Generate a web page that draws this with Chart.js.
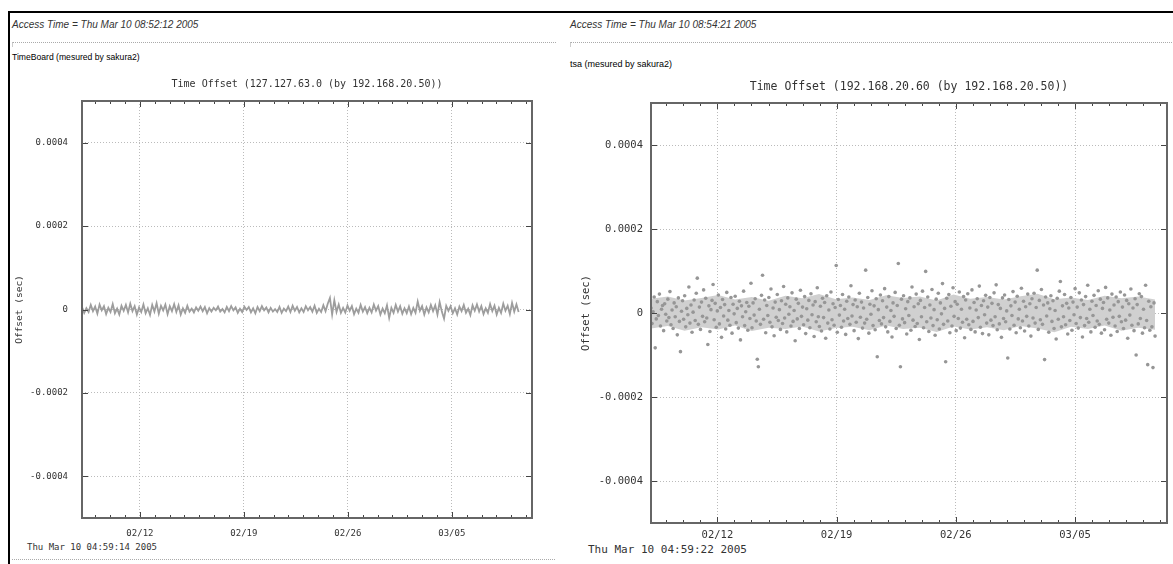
<!DOCTYPE html>
<html>
<head>
<meta charset="utf-8">
<script src="https://cdn.jsdelivr.net/npm/chart.js@4.4.1/dist/chart.umd.min.js"></script>
<style>
    body { margin: 0; background: #fff; width: 1173px; height: 564px; position: relative; overflow: hidden; font-family: "Liberation Sans", Arial, sans-serif; }
    .linea-top { position: absolute; left: 8px; top: 11px; width: 1165px; height: 2px; background: #000; }
    .linea-izq { position: absolute; left: 8px; top: 11px; width: 2px; height: 553px; background: #000; }
    .acceso { position: absolute; font-style: italic; font-size: 10px; color: #333; white-space: nowrap; }
    .nombre { position: absolute; font-size: 8.6px; color: #000; white-space: nowrap; }
    .sep { position: absolute; height: 4px; border-top: 1px dotted #aaa; border-left: 1px solid #ccc; }
    .sello { position: absolute; font-family: "DejaVu Sans Mono", monospace; font-size: 9px; color: #333; white-space: nowrap; }
    .caja { position: absolute; }
</style>
</head>
<body>
<div class="linea-top"></div>
<div class="linea-izq"></div>

<div class="acceso" style="left:12px;top:19px;">Access Time = Thu Mar 10 08:52:12 2005</div>
<div class="sep" style="left:12px;top:42px;width:543px;"></div>
<div class="nombre" style="left:12px;top:52px;">TimeBoard (mesured by sakura2)</div>
<div class="sello" style="left:27px;top:542px;">Thu Mar 10 04:59:14 2005</div>
<div class="sep" style="left:12px;top:559px;width:543px;border-left:none;"></div>

<div class="acceso" style="left:570px;top:19px;">Access Time = Thu Mar 10 08:54:21 2005</div>
<div class="sep" style="left:570px;top:42px;width:603px;"></div>
<div class="nombre" style="left:570px;top:59px;font-size:9px;">tsa (mesured by sakura2)</div>
<div class="sello" style="left:588px;top:543px;font-size:11px;">Thu Mar 10 04:59:22 2005</div>

<div class="caja" style="left:0px;top:70px;width:560px;height:480px;"><canvas id="grafica-a"></canvas></div>
<div class="caja" style="left:565px;top:70px;width:608px;height:480px;"><canvas id="grafica-b"></canvas></div>

<script>
// tiempo en dias desde 02/12 00:00
const ejeMin = -3.9;
const ejeMax = 26.4;
const semanasDias = [0, 7, 14, 21];
const semanasEtiquetas = ['02/12', '02/19', '02/26', '03/05'];
const offsetTicks = [-0.0004, -0.0002, 0, 0.0002, 0.0004];

// TimeBoard: offset en microsegundos, muestras regulares
const inicioA = -3.9;
const finA = 25.5;
const offsetA = [
    6, -8, 3, -6, 11, -4, 7, -10, 12, -2,
    8, -11, 4, -6, 13, -9, 2, -12, 9, -3,
    11, -7, 14, -4, 8, -12, 5, -6, 12, -9,
    3, -13, 11, -5, 15, -10, 9, -2, 12, -11,
    8, -4, 13, -6, 10, -12, 3, -8, 9, -5,
    2, -7, 5, -3, 7, -4, 6, -9, 3, -5,
    4, -2, 7, -5, 1, -7, 6, -4, 8, -2,
    5, -8, 2, -6, 7, -1, 6, -7, 3, -9,
    6, -4, 8, -2, 5, -7, 4, -5, 1, -6,
    6, -8, 2, -4, 7, -6, 9, -3, 6, -7,
    3, -6, 8, -2, 6, -5, 9, -8, 2, -6,
    10, -4, 14, 28, -12, 22, -6, 12, -8, 4,
    -7, 10, -3, 8, -11, 2, -8, 11, -5, 6,
    -9, 4, -7, 12, -3, 8, -12, 2, -9, 10,
    -20, 4, -8, 11, -5, 8, -10, 3, -9, 7,
    -11, 4, -8, 19, -3, 8, -12, 5, -7, 11,
    -4, 10, -12, 18, -5, -22, 9, -3, 8, -9,
    3, -12, 7, -4, 11, -8, 2, -13, 10, -3,
    12, -5, 8, -11, 3, -8, 13, -4, 9, -12,
    4, -8, 14, -3, 9, -11, 16, -5, 12, -6
];

// tsa: offset en microsegundos, muestras regulares
const inicioB = -3.9;
const finB = 25.7;
const offsetB = [
    12, -25, 3, 38, -83, -14, 27, -6, 45, -31, 9, 18, -42, 22, -3, -19, 33, -11, 51, -28,
    7, -37, 24, -9, 15, -52, 36, -20, -92, 4, 29, -15, 41, -33, 11, -4, 62, -24, 19, -46,
    2, 31, -18, 47, 83, -27, 14, -39, 26, -8, 55, -21, 35, -12, -75, 17, -44, 8, 30, 68,
    -16, 23, -34, 5, 43, -26, 13, -58, 32, -7, 20, -38, 49, -17, 6, -29, 37, -48, 21, -2,
    40, -23, 11, -36, 28, -64, 17, -9, 52, -30, 3, 25, -41, 16, -13, 71, -35, 24, -5, 34,
    -19, -110, -128, 9, -27, 42, 90, -15, 31, -47, 18, -6, 37, -22, 57, -33, 12, -54, 26, -10,
    44, -18, 8, -39, 29, -25, 63, -12, 21, -45, 36, -3, 15, -31, 48, -20, 6, -66, 33, -14,
    23, -37, 54, -8, 14, -28, 39, -49, 10, -17, 30, -35, 46, -4, 19, -56, 27, -21, 60, -9,
    -32, 16, -43, 35, -11, 25, -60, 41, -24, 7, -38, 50, -16, 22, -29, 13, 113, -46, 32, -5,
    18, -34, 44, -19, 9, -51, 28, -13, 38, -27, 65, -7, 20, -42, 31, -22, 15, -61, 47, -10,
    26, -36, 12, -24, 102, -15, 37, -48, 21, -3, 53, -30, 17, -40, 34, -104, 8, -18, 43, -26,
    29, -11, 58, -33, 14, -45, 39, -20, 6, -57, 24, -8, 49, -37, 18, 118, -29, -128, 33, -14,
    41, -23, 10, -50, 27, -6, 36, -41, 62, -17, 15, -32, 45, -25, 22, -63, 30, -9, 52, -35,
    13, 99, -21, 38, -44, 19, -12, 56, -30, 8, -53, 33, -16, 47, -38, 24, -2, 70, -27, 11,
    -116, 35, -19, 44, -47, 16, -31, 60, -8, 27, -42, 21, -13, 50, -36, 9, -22, 39, -59, 31,
    -15, 46, -28, 12, -39, 55, -20, 25, -45, 7, 34, -11, 64, -34, 18, -49, 29, -4, 42, -24,
    14, -52, 37, -17, 23, -30, 48, -9, 67, -40, 20, -26, 11, -58, 36, -13, 43, -21, 5, -107,
    32, -38, 17, -6, 51, -29, 26, -47, 40, -14, 9, -35, 59, -19, 28, -43, 15, -8, 45, -31,
    22, -55, 34, -12, 47, -24, 13, 102, -39, 30, -16, 56, -27, 19, -111, 38, -7, 24, -46, 10,
    41, -20, 29, -37, 6, -62, 35, -15, 52, 75, -33, 17, -9, 44, -28, 23, -50, 12, -18, 37,
    -41, 26, -4, 58, -25, 14, -36, 48, -11, 31, -57, 20, -30, 39, -13, 66, -22, 9, -45, 28,
    -6, 42, -34, 18, -19, 53, -27, 33, -48, 11, 25, -40, 61, -15, 36, -24, 7, -53, 45, -10,
    19, -31, 38, -44, 27, -8, 50, -21, 14, -37, 43, -17, 30, -60, 22, -5, 57, -29, 12, -42,
    34, -100, 20, -26, 46, -13, 39, -48, 9, -35, 66, -18, -123, 28, -41, 15, -33, -130, 24, -55
];

// tsa: borde superior e inferior de la nube densa de puntos (microsegundos, uno por dia)
const nubeAlta = [34, 39, 30, 36, 43, 32, 38, 29, 41, 35, 45, 33, 37, 31, 42, 36, 39, 30, 44, 34, 38, 32, 40, 46, 33, 37, 31, 41, 35, 39, 32];
const nubeBaja = [-37, -31, -42, -34, -39, -30, -43, -35, -38, -32, -44, -36, -33, -41, -30, -38, -35, -45, -32, -39, -34, -41, -31, -37, -46, -33, -38, -30, -42, -35, -40];

Chart.defaults.font.family = '"DejaVu Sans Mono", monospace';
Chart.defaults.color = '#333';

function aPuntos(valores, inicio, fin) {
    const paso = (fin - inicio) / (valores.length - 1);
    return valores.map((v, i) => ({ x: inicio + i * paso, y: v * 1e-6 }));
}

// marco y ticks hacia adentro, estilo gnuplot
const marcoGnuplot = {
    id: 'marcoGnuplot',
    afterDatasetsDraw(chart) {
        const { ctx, chartArea: a, scales: { x, y } } = chart;
        ctx.save();
        ctx.strokeStyle = '#444';
        ctx.lineWidth = 1;
        ctx.beginPath();
        for (let d = Math.ceil(x.min); d <= x.max; d++) {
            const px = Math.round(x.getPixelForValue(d)) + 0.5;
            const largo = semanasDias.includes(d) ? 6 : 3;
            ctx.moveTo(px, a.bottom); ctx.lineTo(px, a.bottom - largo);
            ctx.moveTo(px, a.top); ctx.lineTo(px, a.top + largo);
        }
        offsetTicks.forEach(v => {
            const py = Math.round(y.getPixelForValue(v)) + 0.5;
            ctx.moveTo(a.left, py); ctx.lineTo(a.left + 6, py);
            ctx.moveTo(a.right, py); ctx.lineTo(a.right - 6, py);
        });
        ctx.stroke();
        ctx.lineWidth = 2;
        ctx.strokeStyle = '#666';
        ctx.strokeRect(a.left, a.top, a.width, a.height);
        ctx.restore();
    }
};

function graficar(id, titulo, datasets, g) {
    new Chart(document.getElementById(id), {
        type: 'scatter',
        data: { datasets: datasets },
        plugins: [marcoGnuplot],
        options: {
            responsive: true,
            maintainAspectRatio: false,
            animation: false,
            layout: { padding: { right: g.derecha, left: 0, top: 0, bottom: 0 } },
            plugins: { legend: { display: false }, tooltip: { enabled: false } },
            scales: {
                x: {
                    type: 'linear',
                    position: 'bottom',
                    min: ejeMin,
                    max: ejeMax,
                    afterBuildTicks: s => { s.ticks = semanasDias.map(v => ({ value: v })); },
                    afterFit: s => { s.height = g.abajo; },
                    ticks: {
                        callback: v => semanasEtiquetas[semanasDias.indexOf(v)],
                        font: { size: g.letraTick },
                        padding: g.padX,
                        maxRotation: 0
                    },
                    grid: { color: '#bbb', lineWidth: 1, drawTicks: false },
                    border: { display: false, dash: [1, 2] }
                },
                xTop: {
                    type: 'linear',
                    position: 'top',
                    min: ejeMin,
                    max: ejeMax,
                    afterFit: s => { s.height = g.arriba; },
                    ticks: { display: false },
                    grid: { display: false, drawTicks: false },
                    border: { display: false },
                    title: {
                        display: true,
                        text: titulo,
                        font: { size: g.letraTitulo },
                        padding: { top: g.padTitulo, bottom: 0 },
                        color: '#333'
                    }
                },
                y: {
                    type: 'linear',
                    min: -0.0005,
                    max: 0.0005,
                    afterBuildTicks: s => { s.ticks = offsetTicks.map(v => ({ value: v })); },
                    afterFit: s => { s.width = g.izquierda; },
                    ticks: {
                        callback: v => v === 0 ? '0' : v.toFixed(4),
                        font: { size: g.letraTick },
                        padding: g.padY
                    },
                    grid: { color: '#bbb', lineWidth: 1, drawTicks: false },
                    border: { display: false, dash: [1, 2] },
                    title: {
                        display: true,
                        text: 'Offset (sec)',
                        font: { size: g.letraTituloY },
                        padding: { top: g.padTituloY, bottom: 0 },
                        color: '#333'
                    }
                }
            }
        }
    });
}

graficar('grafica-a', 'Time Offset (127.127.63.0 (by 192.168.20.50))', [{
    data: aPuntos(offsetA, inicioA, finA),
    showLine: true,
    borderColor: '#9d9d9d',
    borderWidth: 1.8,
    pointRadius: 0
}], { izquierda: 82, derecha: 28, arriba: 31, abajo: 32, padX: 10, padY: 14, padTitulo: 8, padTituloY: 14,
      letraTick: 9, letraTitulo: 10, letraTituloY: 9.5 });

graficar('grafica-b', 'Time Offset (192.168.20.60 (by 192.168.20.50))', [{
    data: aPuntos(nubeAlta, inicioB, finB),
    order: 2,
    showLine: true,
    borderWidth: 0,
    borderColor: 'rgba(0,0,0,0)',
    pointRadius: 0,
    backgroundColor: '#d0d0d0',
    fill: '+1'
}, {
    data: aPuntos(nubeBaja, inicioB, finB),
    order: 2,
    showLine: true,
    borderWidth: 0,
    borderColor: 'rgba(0,0,0,0)',
    pointRadius: 0
}, {
    data: aPuntos(offsetB, inicioB, finB),
    order: 0,
    showLine: false,
    backgroundColor: '#969696',
    borderWidth: 0,
    pointRadius: 1.8
}], { izquierda: 86, derecha: 6, arriba: 33, abajo: 27, padX: 6, padY: 8, padTitulo: 10, padTituloY: 15,
      letraTick: 10.5, letraTitulo: 11.5, letraTituloY: 10.5 });
</script>
</body>
</html>
